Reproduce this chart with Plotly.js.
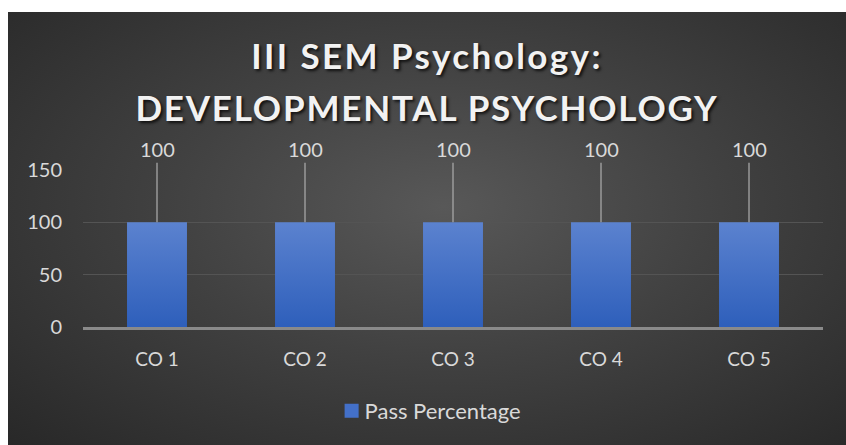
<!DOCTYPE html>
<html>
<head>
<meta charset="utf-8">
<script src="https://cdn.plot.ly/plotly-3.0.1.min.js"></script>
<style>
  html, body { margin: 0; padding: 0; background: #ffffff; width: 846px; height: 445px; overflow: hidden; }
  #chart {
    position: absolute; left: 8px; top: 12px; width: 838px; height: 433px;
    background: radial-gradient(ellipse farthest-corner at 52% 45%, #585858 0%, #414141 45%, #282828 100%);
  }
</style>
</head>
<body>
<div id="chart"></div>
<script>
const categories = ["CO 1", "CO 2", "CO 3", "CO 4", "CO 5"];
const passPercentage = [100, 100, 100, 100, 100];
const seriesName = "Pass Percentage";
const yTicks = [0, 50, 100, 150];
const titleLines = ["III SEM Psychology:", "DEVELOPMENTAL PSYCHOLOGY"];

const FONT = "Lato, 'Open Sans', sans-serif";
const labelFont = { family: FONT, size: 20, color: "#d9d9d9" };
const titleFont = { family: FONT, size: 35, color: "#f2f2f2", weight: "bold",
                    shadow: "2px 2px 3px rgba(0,0,0,0.75)" };

const W = 838, H = 433, M = { l: 75, r: 23, t: 158, b: 118 };
const plotW = W - M.l - M.r, plotH = H - M.t - M.b;
const titleCenters = [43, 95]; // px from top of figure
const titleSpacing = ["2.4px", "1.8px"];
const titleAnns = titleLines.map((t, i) => ({
  text: t, xref: "paper", yref: "paper",
  x: (W / 2 - M.l) / plotW, y: (H - M.b - titleCenters[i]) / plotH,
  xanchor: "center", yanchor: "middle", showarrow: false, font: titleFont
}));

const labelAnns = categories.map((c, i) => ({
  x: c, y: passPercentage[i], xref: "x", yref: "y",
  text: String(passPercentage[i]),
  showarrow: true, arrowhead: 0, arrowwidth: 1.3, arrowcolor: "#a6a6a6",
  ax: 0, ay: -73, standoff: 0,
  font: labelFont
}));

const trace = {
  type: "bar", x: categories, y: passPercentage, name: seriesName,
  width: 0.405,
  marker: { color: "#4370c9", line: { width: 0 } },
  hoverinfo: "skip"
};

const layout = {
  width: W, height: H,
  paper_bgcolor: "rgba(0,0,0,0)", plot_bgcolor: "rgba(0,0,0,0)",
  margin: M,
  xaxis: {
    type: "category", showgrid: false, zeroline: false,
    showline: true, linecolor: "#8a8a8a", linewidth: 2.5,
    ticks: "", tickfont: { family: FONT, size: 19, color: "#d9d9d9" },
    ticklabelstandoff: 14
  },
  yaxis: {
    range: [0, 150], tickvals: yTicks, ticktext: yTicks.map(String),
    showgrid: true, gridcolor: "#545454", gridwidth: 1,
    zeroline: false, showline: false, ticks: "",
    tickfont: labelFont, ticklabelstandoff: 20
  },
  showlegend: true,
  legend: {
    orientation: "h", x: 0.463, xanchor: "center", y: -0.535, yanchor: "middle",
    font: { family: FONT, size: 22, color: "#d9d9d9" },
    bgcolor: "rgba(0,0,0,0)", itemwidth: 30
  },
  annotations: titleAnns.concat(labelAnns),
  bargap: 0.595
};

Plotly.newPlot("chart", [trace], layout, { displayModeBar: false, staticPlot: true }).then(gd => {
  // expanded letter spacing for the title lines
  gd.querySelectorAll(".annotation").forEach(a => {
    const idx = +a.getAttribute("data-index");
    if (idx < titleLines.length) {
      const t = a.querySelector("text");
      if (t) t.style.letterSpacing = titleSpacing[idx];
    }
  });
  // larger legend swatch, closer to its text
  gd.querySelectorAll(".legend .legendpoints").forEach(g => {
    g.setAttribute("transform", "translate(3.6,0) scale(1.17)");
  });
  const svg = gd.querySelector("svg.main-svg");
  const ns = "http://www.w3.org/2000/svg";
  let defs = svg.querySelector("defs");
  if (!defs) { defs = document.createElementNS(ns, "defs"); svg.insertBefore(defs, svg.firstChild); }
  const grad = document.createElementNS(ns, "linearGradient");
  grad.setAttribute("id", "barGrad");
  grad.setAttribute("x1", "0"); grad.setAttribute("y1", "0");
  grad.setAttribute("x2", "0"); grad.setAttribute("y2", "1");
  [["0%", "#5b82cf"], ["100%", "#2e5fbb"]].forEach(([o, c]) => {
    const s = document.createElementNS(ns, "stop");
    s.setAttribute("offset", o); s.setAttribute("stop-color", c);
    grad.appendChild(s);
  });
  defs.appendChild(grad);
  gd.querySelectorAll(".bars .point path").forEach(p => { p.style.fill = "url(#barGrad)"; });
});
</script>
</body>
</html>
